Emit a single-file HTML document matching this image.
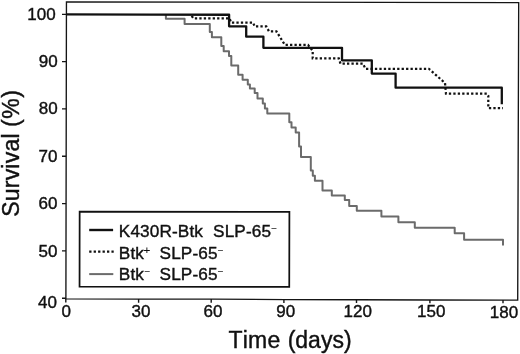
<!DOCTYPE html>
<html>
<head>
<meta charset="utf-8">
<title>Survival</title>
<style>
html,body{margin:0;padding:0;background:#fff;}
body{width:520px;height:354px;overflow:hidden;}
svg{display:block;}
text{font-family:"Liberation Sans",Arial,Helvetica,sans-serif;fill:#111;stroke:#111;stroke-width:0.4px;font-kerning:none;}
.tk{font-size:17px;}
.ax{font-size:23px;}
.lg{font-size:17.2px;}
.sup{font-size:10px;stroke-width:0.1px;}
</style>
</head>
<body>
<svg width="520" height="354" viewBox="0 0 520 354">
<rect x="0" y="0" width="520" height="354" fill="#fff"/>
<!-- frame -->
<g stroke="#151515" stroke-width="1.35" fill="none" stroke-linecap="butt" stroke-linejoin="miter">
<path d="M65.9,298.9 L66.45,1.85 L518.7,2.6 L517.7,300.15 L432,300 L357,299.7 L286,299.55 L213,299.15 L140,299.05 Z"/>
<!-- y ticks -->
<path d="M62,14.3H66.4M62,61.6H66.4M62,108.9H66.3M62,156.25H66.2M62,203.6H66.1M62,250.9H66M62,298.2H66"/>
<!-- x ticks -->
<path d="M65.8,298.9V302.5M138.6,299V302.7M211.2,299.1V302.8M283.9,299.5V303M356.5,299.7V303.1M429.9,300V303.3M503,300.1V303.3" stroke-width="1.4"/>
</g>
<!-- gray curve -->
<path fill="none" stroke="#6b6b6b" stroke-width="2" stroke-linejoin="round" d="M165.9,14.5V18.7H184.6V24H209.8V32H211.9V37.3H221.3V46H223.7V51.3H229V56H231.3V65.4H238.2V74.8H242.6V79.7H247.8V84.5H249.9V88.6H254.7V93H257.5V98.6H262.8V103.6H264.9V108.6H267.3V113.5H289.3V122.3H291.5V127.5H295.7V132.6H299.1V146.4H301V157H310.8V170.5H312.8V175.8H314.9V180.7H322.5V190.4H331.8V195.6H344.8V200H349.2V206H356.8V210.8H381.4V216.4H398.4V222.2H414.8V227.8H454.7V233.2H464.1V239.7H503V245.5"/>
<!-- dotted curve -->
<path transform="translate(0,0.35)" fill="none" stroke="#111" stroke-width="2.25" stroke-dasharray="2.3 2.15" d="M191.7,15.6L193.4,18.05H229.6L231,22.2H253.1L254.6,26.1H266.3L269,31H276.4L284.9,44.6H308L312.7,50.4V58H338.8L340.5,63.3H363L365.4,68.4H428.8L436.3,75L445,82.7L446,93.3H486.8L488.3,95.5V107.7H503"/>
<!-- black solid curve -->
<path transform="translate(0,0.35)" fill="none" stroke="#111" stroke-width="2.3" stroke-linejoin="round" d="M66.4,13.95L150,14.25L229.1,14.4V26H246.2V36.3H263.4V47.5H342V60H371.8V73.2H395.6V87.3H501.8V103.8"/>
<!-- legend -->
<path d="M79.65,211.55L289.4,211.9L289.25,286.85L79.55,286.7Z" fill="#fff" stroke="#111" stroke-width="1.75"/>
<path d="M89.2,230H113.1" stroke="#111" stroke-width="2.4" fill="none"/>
<path d="M89.2,251.55H113.7" stroke="#111" stroke-width="2.3" stroke-dasharray="2.3 2.15" fill="none"/>
<path d="M89.2,274.1H113.3" stroke="#6b6b6b" stroke-width="2" fill="none"/>
<g class="lg" letter-spacing="0.12">
<text x="118.8" y="236.7">K430R-Btk <tspan x="213.1" y="236.7">SLP-65</tspan><tspan class="sup" dx="0" dy="-4.6">−</tspan></text>
<text x="118.8" y="258.8">Btk<tspan class="sup" dx="-0.4" dy="-4.7" style="font-size:11.5px">+</tspan> <tspan x="159.6" y="258.8">SLP-65</tspan><tspan class="sup" dx="0" dy="-4.6">−</tspan></text>
<text x="118.8" y="279.9">Btk<tspan class="sup" dx="0.5" dy="-4.6">−</tspan> <tspan x="159.6" y="279.9">SLP-65</tspan><tspan class="sup" dx="0" dy="-4.6">−</tspan></text>
</g>
<!-- y tick labels -->
<g class="tk" text-anchor="end">
<text x="55.6" y="19.6">100</text>
<text x="57.6" y="67.3">90</text>
<text x="57.6" y="114.3">80</text>
<text x="57.5" y="161.6">70</text>
<text x="57.4" y="208.9">60</text>
<text x="57.5" y="257.2">50</text>
<text x="56.9" y="308.4">40</text>
</g>
<!-- x tick labels -->
<g class="tk" text-anchor="middle">
<text x="66.2" y="317.3">0</text>
<text x="140.9" y="316.6">30</text>
<text x="213" y="316.7">60</text>
<text x="285.8" y="317.1">90</text>
<text x="357.8" y="317.2">120</text>
<text x="431.2" y="317.3">150</text>
<text x="504" y="317.8">180</text>
</g>
<text class="ax" x="228.5" y="348.1" letter-spacing="0.2">Time <tspan x="287.65" y="348.1" letter-spacing="0">(days)</tspan></text>
<text class="ax" transform="translate(19.15,216.8) rotate(-90)" letter-spacing="0.22">Survival <tspan x="108.5" y="0" text-anchor="middle" letter-spacing="0.5">(%)</tspan></text>
</svg>
</body>
</html>
